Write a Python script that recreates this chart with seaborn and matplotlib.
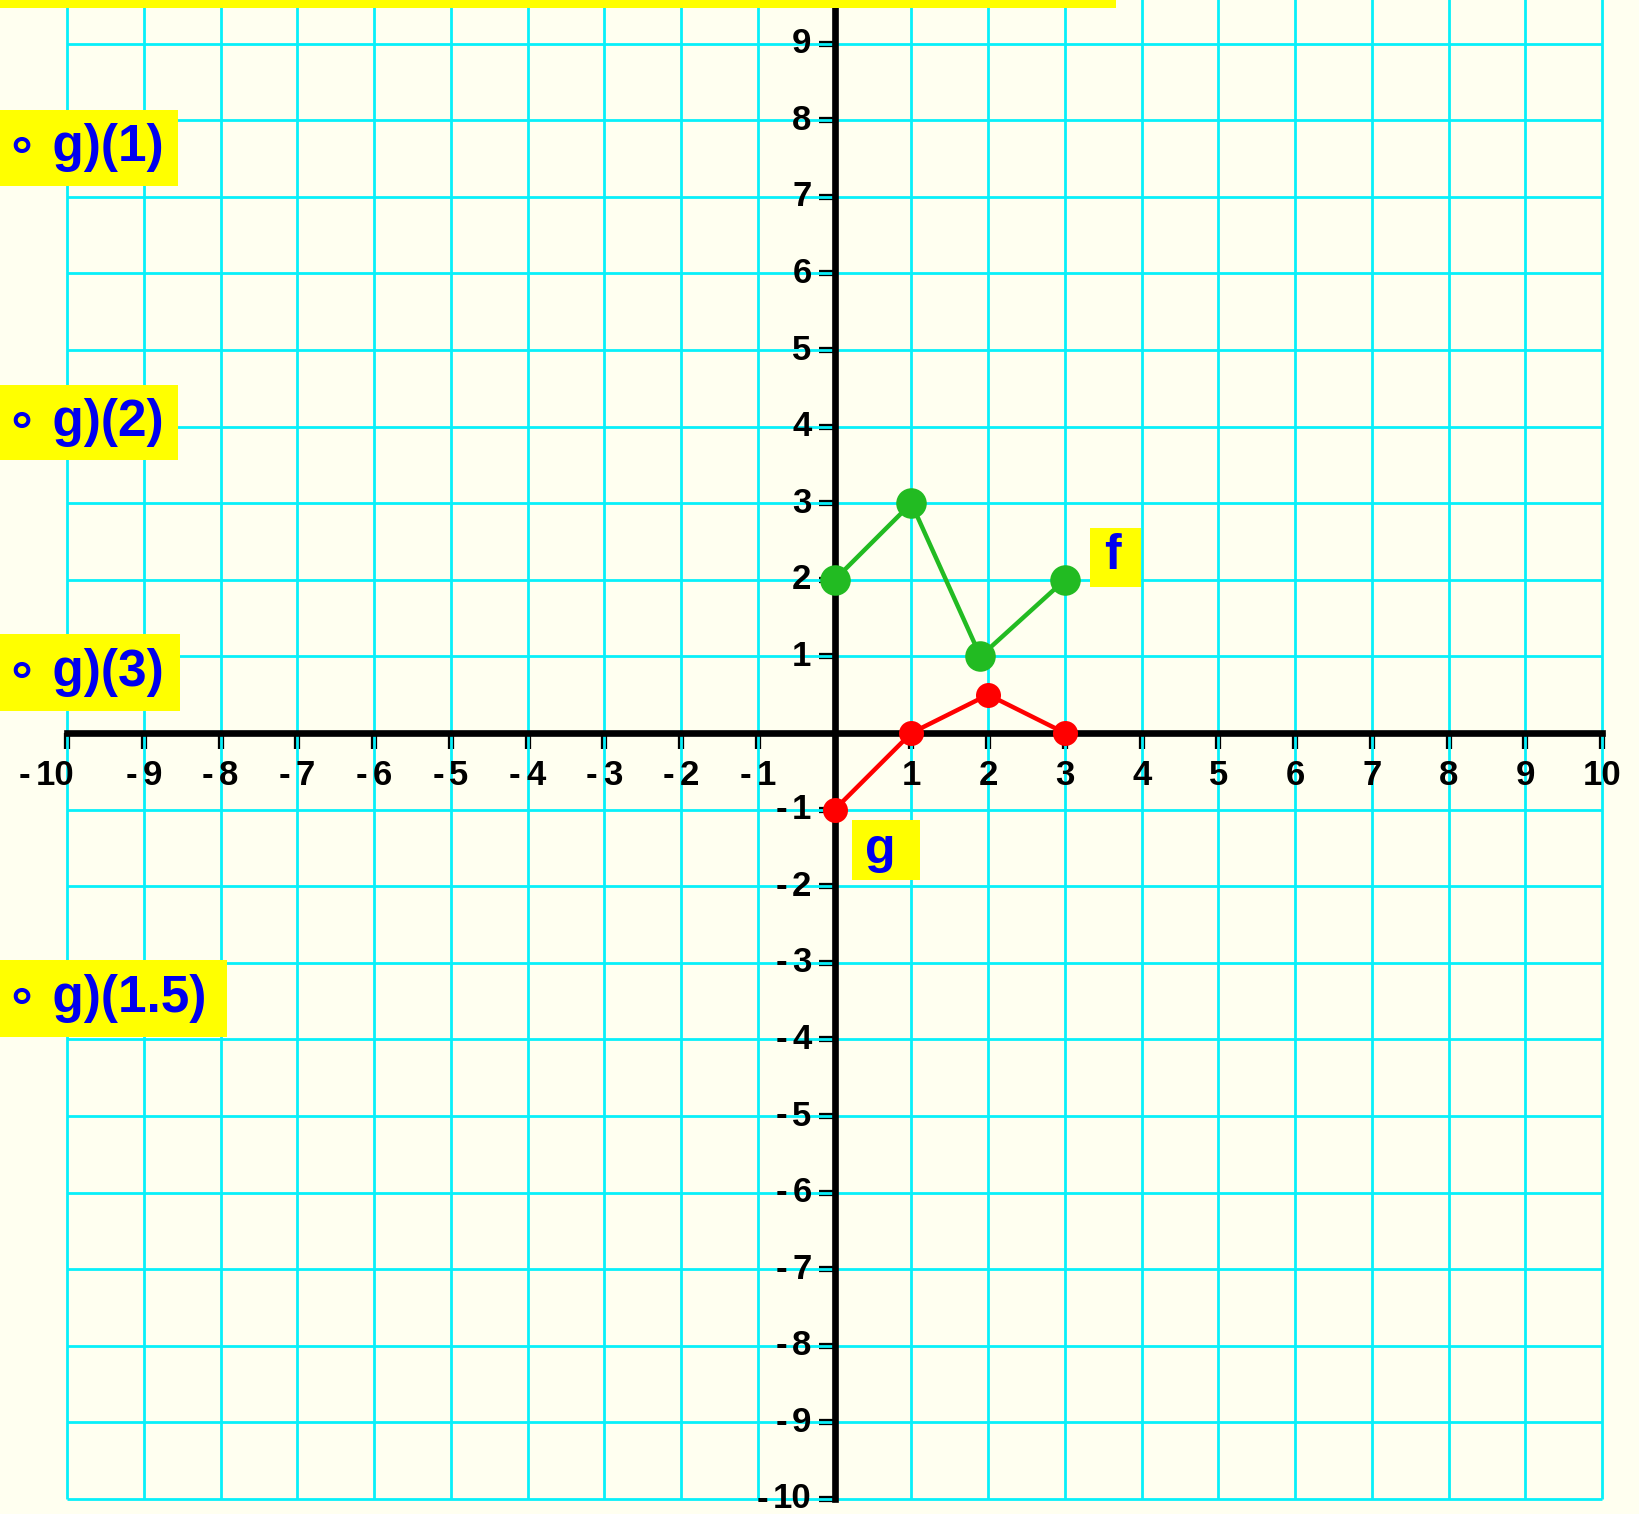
import matplotlib
matplotlib.use('Agg')
import matplotlib.pyplot as plt
import pandas as pd
import seaborn as sns
from matplotlib.patches import Rectangle

# Points
f_x = [0, 1, 1.9, 3]
f_y = [2, 3, 1, 2]
g_x = [0, 1, 2, 3]
g_y = [-1, 0, 0.5, 0]
ticks = list(range(-10, 11))
side_labels = ['∘ g)(1)', '∘ g)(2)', '∘ g)(3)', '∘ g)(1.5)']

W, H = 1639, 1514
X0, PX = 67.0, 76.76    # pixel of x=-10, pixels per unit
Y0, PY = 733.0, 76.6    # pixel of y=0, pixels per unit
xlim = (-10 - X0 / PX, -10 + (W - X0) / PX)
ylim = (-(H - Y0) / PY, Y0 / PY)

sns.set_style('white')
plt.rcParams['font.family'] = ['Liberation Sans', 'DejaVu Sans']

fig = plt.figure(figsize=(W / 100, H / 100), dpi=100)
ax = fig.add_axes([0, 0, 1, 1])
ax.set_facecolor('#fffff0')

# grid
ax.hlines(ticks, -10, 10, color='#08f0fa', lw=2.0, zorder=1)
ax.vlines(ticks, -10, 10, color='#08f0fa', lw=2.0, zorder=1)

# the two functions
df_f = pd.DataFrame({'x': f_x, 'y': f_y})
df_g = pd.DataFrame({'x': g_x, 'y': g_y})
sns.lineplot(data=df_f, x='x', y='y', sort=False, ax=ax, color='#22bb22', lw=3.2,
             marker='o', markersize=22, markeredgewidth=0, zorder=4)
sns.lineplot(data=df_g, x='x', y='y', sort=False, ax=ax, color='#ff0000', lw=3.2,
             marker='o', markersize=18, markeredgewidth=0, zorder=4)
ax.set_xlabel('')
ax.set_ylabel('')

# axes through the origin
for s in ['top', 'right']:
    ax.spines[s].set_visible(False)
for s in ['left', 'bottom']:
    ax.spines[s].set_position(('data', 0))
    ax.spines[s].set_bounds(-10, 10)
    ax.spines[s].set_linewidth(4.8)
    ax.spines[s].set_color('black')
    ax.spines[s].set_zorder(2.5)
nz = [t for t in ticks if t != 0]
ax.set_xticks(nz)
ax.set_yticks(nz)
ax.set_xticklabels([])
ax.set_yticklabels([])
ax.tick_params(bottom=True, left=True, direction='out', length=11.5, width=4.5, color='black')
# limits last, set_yticks would otherwise stretch the view to y=10
ax.set_xlim(*xlim)
ax.set_ylim(*ylim)

tick_font = dict(fontsize=25, fontweight='bold', color='black', zorder=6)
DW = 19.0  # digit width in pixels
for t in nz:
    n = len(str(abs(t)))
    # x labels: whole "- n" string centred on the tick
    if t < 0:
        total = 10 + 8 + DW * n
        left = -total / 2 - (20 if n == 2 else 0)
        ax.annotate('-', (t, 0), xytext=(left, -42), textcoords='offset pixels',
                    ha='left', va='center', **tick_font)
        ax.annotate(str(abs(t)), (t, 0), xytext=(left + 17, -42), textcoords='offset pixels',
                    ha='left', va='center', **tick_font)
    else:
        ax.annotate(str(t), (t, 0), xytext=(0, -42), textcoords='offset pixels',
                    ha='center', va='center', **tick_font)
    # y labels: right aligned next to the tick
    if ylim[0] < t < ylim[1]:
        ax.annotate(str(abs(t)), (0, t), xytext=(-23, 0), textcoords='offset pixels',
                    ha='right', va='center', **tick_font)
        if t < 0:
            ax.annotate('-', (0, t), xytext=(-23 - DW * n - 5, 0), textcoords='offset pixels',
                        ha='right', va='center', **tick_font)


def box(x0, y0, x1, y1):
    fig.add_artist(Rectangle((x0 / W, 1 - y1 / H), (x1 - x0) / W, (y1 - y0) / H,
                             transform=fig.transFigure, color='#ffff00', lw=0, zorder=5))


def label(x, y, text, size, ha='left'):
    fig.text(x / W, 1 - y / H, text, fontsize=size, fontweight='bold', color='#0000ee',
             ha=ha, va='center', zorder=6)


# top banner (cut off)
box(0, 0, 1116, 8)

# curve names
box(1090, 528, 1141, 587)
label(1112, 556, 'f', 36, ha='center')
box(852, 820, 920, 880)
label(880, 850, 'g', 36, ha='center')

# cut-off questions on the left
side_boxes = [(0, 110, 178, 186), (0, 385, 178, 460), (0, 634, 180, 711), (0, 960, 227, 1037)]
for (x0, y0, x1, y1), txt in zip(side_boxes, side_labels):
    box(x0, y0, x1, y1)
    label(6, (y0 + y1) / 2, txt, 37)

fig.savefig('out.png', dpi=100)
